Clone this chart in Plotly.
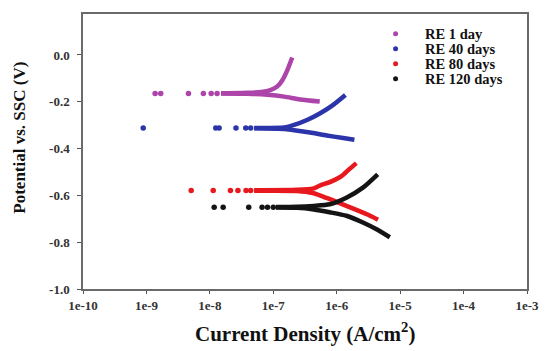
import plotly.graph_objects as go

# Tafel polarisation data: current density (A/cm^2) vs potential (V vs SSC)
series_names = ["RE 1 day", "RE 40 days", "RE 80 days", "RE 120 days"]
series_colors = ["#ac44aa", "#2c34aa", "#e8191e", "#141414"]

# isolated points close to the corrosion potential
re1_dot_i = [1.37e-9, 1.68e-9, 4.6e-9, 7.9e-9, 1.05e-8, 1.30e-8]
re1_dot_e = [-0.165, -0.165, -0.165, -0.165, -0.165, -0.165]
re40_dot_i = [8.9e-10, 1.24e-8, 1.40e-8, 2.58e-8, 3.68e-8, 4.4e-8]
re40_dot_e = [-0.312, -0.312, -0.312, -0.312, -0.312, -0.312]
re80_dot_i = [5.08e-9, 1.13e-8, 2.11e-8, 2.77e-8, 3.72e-8, 4.4e-8]
re80_dot_e = [-0.579, -0.579, -0.579, -0.579, -0.579, -0.579]
re120_dot_i = [1.17e-8, 1.62e-8, 4.10e-8, 6.65e-8, 8.1e-8, 1.00e-7]
re120_dot_e = [-0.651, -0.651, -0.651, -0.651, -0.651, -0.651]

# cathodic branches (from the end of the scan towards Ecorr)
re1_cat_i = [5.4e-7, 2.64e-7, 1.49e-7, 8.1e-8, 3.96e-8, 1.5e-8]
re1_cat_e = [-0.199, -0.190, -0.178, -0.170, -0.166, -0.165]
re40_cat_i = [1.90e-6, 1.19e-6, 6.95e-7, 3.78e-7, 2.13e-7, 1.49e-7, 5.0e-8]
re40_cat_e = [-0.362, -0.354, -0.344, -0.331, -0.322, -0.316, -0.313]
re80_cat_i = [4.48e-6, 3.13e-6, 2.04e-6, 1.19e-6, 6.95e-7, 4.21e-7, 2.37e-7, 5.0e-8]
re80_cat_e = [-0.704, -0.683, -0.662, -0.636, -0.611, -0.590, -0.581, -0.580]
re120_cat_i = [6.88e-6, 4.17e-6, 2.59e-6, 1.42e-6, 7.74e-7, 4.36e-7, 2.37e-7, 1.1e-7]
re120_cat_e = [-0.779, -0.744, -0.716, -0.687, -0.672, -0.660, -0.653, -0.652]

# anodic branches (from Ecorr towards the end of the scan)
re1_an_i = [1.5e-8, 3.96e-8, 6.5e-8, 9.0e-8, 1.15e-7, 1.39e-7, 1.66e-7, 1.99e-7]
re1_an_e = [-0.164, -0.162, -0.158, -0.150, -0.135, -0.108, -0.066, -0.011]
re40_an_i = [5.0e-8, 1.49e-7, 2.13e-7, 3.40e-7, 5.41e-7, 8.93e-7, 1.37e-6]
re40_an_e = [-0.312, -0.310, -0.299, -0.278, -0.250, -0.212, -0.171]
re80_an_i = [5.0e-8, 2.37e-7, 4.21e-7, 5.41e-7, 8.3e-7, 1.19e-6, 1.58e-6, 2.04e-6]
re80_an_e = [-0.578, -0.576, -0.571, -0.558, -0.540, -0.518, -0.488, -0.462]
re120_an_i = [1.1e-7, 2.37e-7, 4.36e-7, 7.74e-7, 1.42e-6, 2.59e-6, 4.43e-6]
re120_an_e = [-0.650, -0.649, -0.645, -0.638, -0.610, -0.567, -0.510]

x_tick_vals = [1e-10, 1e-9, 1e-8, 1e-7, 1e-6, 1e-5, 1e-4, 1e-3]
x_tick_text = ["1e-10", "1e-9", "1e-8", "1e-7", "1e-6", "1e-5", "1e-4", "1e-3"]
y_tick_vals = [0.0, -0.2, -0.4, -0.6, -0.8, -1.0]
y_tick_text = ["0.0", "-0.2", "-0.4", "-0.6", "-0.8", "-1.0"]

dots = [(re1_dot_i, re1_dot_e), (re40_dot_i, re40_dot_e),
        (re80_dot_i, re80_dot_e), (re120_dot_i, re120_dot_e)]
cathodic = [(re1_cat_i, re1_cat_e), (re40_cat_i, re40_cat_e),
            (re80_cat_i, re80_cat_e), (re120_cat_i, re120_cat_e)]
anodic = [(re1_an_i, re1_an_e), (re40_an_i, re40_an_e),
          (re80_an_i, re80_an_e), (re120_an_i, re120_an_e)]

serif = "Liberation Serif, Times New Roman, serif"
fig = go.Figure()

for name, color, (di, de), (ci, ce), (ai, ae) in zip(series_names, series_colors, dots, cathodic, anodic):
    for bi, be in ((ci, ce), (ai, ae)):
        fig.add_trace(go.Scatter(
            x=bi, y=be, mode="lines", showlegend=False, hoverinfo="skip",
            line=dict(color=color, width=4.5, shape="spline", smoothing=0.6),
        ))
    fig.add_trace(go.Scatter(
        x=di, y=de, mode="markers", name=name, showlegend=False,
        marker=dict(color=color, size=5.5, line=dict(width=0)),
    ))

# compact key in the upper right of the frame
key_x_sym = 0.704   # paper x of the key symbols
key_x_txt = 0.766   # paper x where key labels start
key_rows = [0.928, 0.874, 0.819, 0.765]
shapes = []
annotations = []
for name, color, ky in zip(series_names, series_colors, key_rows):
    shapes.append(dict(
        type="circle", xref="paper", yref="paper",
        xsizemode="pixel", ysizemode="pixel",
        xanchor=key_x_sym, yanchor=ky, x0=-2.5, x1=2.5, y0=-2.5, y1=2.5,
        fillcolor=color, line=dict(width=0),
    ))
    annotations.append(dict(
        text=name, xref="paper", yref="paper",
        x=key_x_txt, y=ky, xanchor="left", yanchor="middle", showarrow=False,
        font=dict(family=serif, size=14.5, color="#111", weight="bold"),
    ))

annotations += [
    dict(text="Potential vs. SSC (V)", textangle=-90,
         xref="paper", yref="paper", x=-0.142, y=0.55,
         xanchor="center", yanchor="middle", showarrow=False,
         font=dict(family=serif, size=17, color="#111", weight="bold")),
    dict(text="Current Density (A/cm<sup>2</sup>)",
         xref="paper", yref="paper", x=0.5, y=-0.158,
         xanchor="center", yanchor="middle", showarrow=False,
         font=dict(family=serif, size=21, color="#111", weight="bold")),
]

tick_font = dict(family=serif, size=13, color="#333", weight="bold")

fig.update_layout(
    width=551, height=351,
    margin=dict(l=83, r=18, t=12, b=62),
    paper_bgcolor="white", plot_bgcolor="white",
    font=dict(family=serif, color="#222"),
    showlegend=False,
    xaxis=dict(
        type="log", range=[-10, -3],
        tickmode="array", tickvals=x_tick_vals, ticktext=x_tick_text,
        ticks="outside", ticklen=3, tickwidth=1.2, tickcolor="#555",
        showline=True, mirror=True, linecolor="#6a6a6a", linewidth=1.5,
        showgrid=False, zeroline=False,
        tickfont=tick_font, ticklabelstandoff=1,
    ),
    yaxis=dict(
        range=[-1.0, 0.175],
        tickmode="array", tickvals=y_tick_vals, ticktext=y_tick_text,
        ticks="outside", ticklen=4, tickwidth=1.2, tickcolor="#555",
        showline=True, mirror=True, linecolor="#6a6a6a", linewidth=1.5,
        showgrid=False, zeroline=False,
        tickfont=tick_font, ticklabelstandoff=5,
    ),
    shapes=shapes,
    annotations=annotations,
)

fig.write_html("out.html")
